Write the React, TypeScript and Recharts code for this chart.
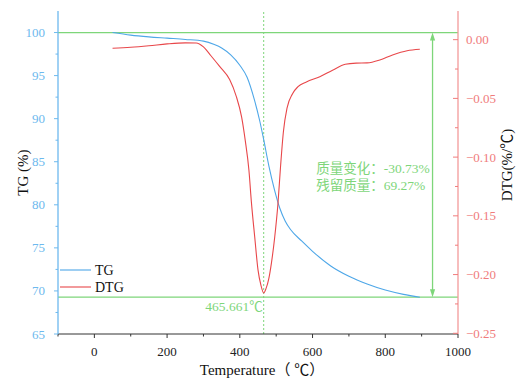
import React from 'react';
import { ComposedChart, Line, XAxis, YAxis, ReferenceLine, ReferenceDot } from 'recharts';

const tgTemp = [50, 100, 150, 200, 250, 300, 330, 350, 375, 400, 420, 440, 455, 465, 480, 495, 510, 525, 540, 570, 600, 650, 700, 750, 800, 850, 895];
const tgValue = [100, 99.7, 99.5, 99.35, 99.2, 99.0, 98.6, 98.2, 97.4, 96.2, 94.8, 92.2, 89.7, 87.7, 84.5, 81.8, 79.6, 78.1, 77.1, 75.8, 74.6, 72.9, 71.7, 70.8, 70.1, 69.6, 69.27];

const dtgTemp = [50, 100, 150, 200, 250, 280, 300, 320, 345, 372, 390, 405, 415, 425, 432, 441, 450, 458, 465.661, 472, 480, 487, 496, 505, 512, 520, 530, 545, 560, 583, 620, 655, 690, 720, 750, 785, 820, 860, 895];
const dtgValue = [-0.0073, -0.0065, -0.0052, -0.0036, -0.0027, -0.0028, -0.0062, -0.0135, -0.023, -0.034, -0.048, -0.066, -0.086, -0.111, -0.139, -0.168, -0.196, -0.209, -0.2157, -0.212, -0.203, -0.19, -0.168, -0.139, -0.108, -0.078, -0.058, -0.046, -0.04, -0.036, -0.0315, -0.026, -0.021, -0.02, -0.0198, -0.0173, -0.013, -0.0094, -0.0082];

const xTicks = [-100, 0, 100, 200, 300, 400, 500, 600, 700, 800, 900, 1000];
const xMajorStep = 200;
const tgTicks = [65, 67.5, 70, 72.5, 75, 77.5, 80, 82.5, 85, 87.5, 90, 92.5, 95, 97.5, 100];
const tgMajorStep = 5;
const dtgTicks = [-0.25, -0.225, -0.2, -0.175, -0.15, -0.125, -0.1, -0.075, -0.05, -0.025, 0];
const dtgMajorStep = 0.05;

const peakTemp = 465.661;
const startMass = 100;
const residualMass = 69.27;
const massChange = -30.73;
const arrowTemp = 930;
const noteTemp = 610;

const tgData = tgTemp.map((t, i) => ({ t, v: tgValue[i] }));
const dtgData = dtgTemp.map((t, i) => ({ t, v: dtgValue[i] }));

const BLUE_AXIS = '#6db9ee';
const BLUE_LINE = '#4ea7e8';
const RED_AXIS = '#f39a9a';
const RED_TEXT = '#f07c7c';
const RED_LINE = '#e8474a';
const GREEN = '#7ed67a';
const SERIF = 'Liberation Serif, serif';
const MIXED = 'Liberation Serif, Noto Sans CJK SC, serif';

const isMajor = (v: number, step: number) => Math.abs(v / step - Math.round(v / step)) < 1e-6;

const LeftTick = (p: any) => {
  const { x, y, payload } = p;
  const major = isMajor(payload.value, tgMajorStep);
  return (
    <g>
      <line x1={x} x2={x - (major ? 4 : 2.5)} y1={y} y2={y} stroke={BLUE_AXIS} strokeWidth={1} />
      {major && (
        <text x={x - 13} y={y + 4.5} textAnchor="end" fontSize={13} style={{ fontFamily: SERIF }} fill={BLUE_AXIS}>
          {payload.value}
        </text>
      )}
    </g>
  );
};

const RightTick = (p: any) => {
  const { x, y, payload } = p;
  const v = payload.value;
  const major = isMajor(v, dtgMajorStep);
  const label = Math.abs(v) < 1e-9 ? '0.00' : '\u2212' + Math.abs(v).toFixed(2);
  return (
    <g>
      <line x1={x} x2={x - (major ? 5 : 3)} y1={y} y2={y} stroke={RED_TEXT} strokeWidth={1} />
      {major && (
        <text x={x + 8} y={y + 4.5} textAnchor="start" fontSize={13} style={{ fontFamily: SERIF }} fill={RED_TEXT}>
          {label}
        </text>
      )}
    </g>
  );
};

const BottomTick = (p: any) => {
  const { x, y, payload } = p;
  const major = isMajor(payload.value, xMajorStep);
  return (
    <g>
      <line x1={x} x2={x} y1={y} y2={y + (major ? 4 : 2.5)} stroke="#333" strokeWidth={1} />
      {major && (
        <text x={x} y={y + 22} textAnchor="middle" fontSize={13} style={{ fontFamily: SERIF }} fill="#222">
          {payload.value}
        </text>
      )}
    </g>
  );
};

const ArrowShape = (p: any) => {
  const { x1, y1, x2, y2 } = p;
  const top = Math.min(y1, y2);
  const bot = Math.max(y1, y2);
  const x = x1;
  return (
    <g>
      <line x1={x} x2={x2} y1={top + 6} y2={bot - 6} stroke={GREEN} strokeWidth={1.3} />
      <polygon points={`${x},${top} ${x - 2.6},${top + 8} ${x + 2.6},${top + 8}`} fill={GREEN} />
      <polygon points={`${x},${bot} ${x - 2.6},${bot - 8} ${x + 2.6},${bot - 8}`} fill={GREEN} />
    </g>
  );
};

const NoteShape = (text: string, anchor: 'start' | 'end', dx: number) => (p: any) => (
  <text x={p.cx + dx} y={p.cy + 4.5} textAnchor={anchor} fontSize={13.5} style={{ fontFamily: MIXED }} fill={GREEN}>
    {text}
  </text>
);

export default function App() {
  return (
    <div style={{ position: 'absolute', left: 0, top: 0, width: 516, height: 383, background: '#fff' }}>
      <ComposedChart width={516} height={383} margin={{ top: 11, right: 0, bottom: 0, left: 0 }}>
        <XAxis
          xAxisId="top"
          orientation="top"
          type="number"
          dataKey="t"
          domain={[-100, 1000]}
          height={0}
          tick={false}
          tickLine={false}
          axisLine={{ stroke: '#222', strokeWidth: 1 }}
        />
        <XAxis
          type="number"
          dataKey="t"
          domain={[-100, 1000]}
          ticks={xTicks}
          interval={0}
          height={49}
          tickLine={false}
          tickSize={0}
          tickMargin={0}
          tick={<BottomTick />}
          axisLine={{ stroke: '#333', strokeWidth: 1 }}
          allowDataOverflow
        />
        <YAxis
          yAxisId="tg"
          orientation="left"
          type="number"
          domain={[65, 102.5]}
          ticks={tgTicks}
          interval={0}
          width={58}
          tickLine={false}
          tickSize={0}
          tickMargin={0}
          tick={<LeftTick />}
          axisLine={{ stroke: BLUE_AXIS, strokeWidth: 1.3 }}
          allowDataOverflow
        />
        <YAxis
          yAxisId="dtg"
          orientation="right"
          type="number"
          domain={[-0.2506, 0.0244]}
          ticks={dtgTicks}
          interval={0}
          width={58}
          tickLine={false}
          tickSize={0}
          tickMargin={0}
          tick={<RightTick />}
          axisLine={{ stroke: RED_AXIS, strokeWidth: 1.3 }}
          allowDataOverflow
        />
        <ReferenceLine yAxisId="tg" y={startMass} stroke={GREEN} strokeWidth={1.2} />
        <ReferenceLine yAxisId="tg" y={residualMass} stroke={GREEN} strokeWidth={1.2} />
        <ReferenceLine yAxisId="tg" x={peakTemp} stroke={GREEN} strokeWidth={1} strokeDasharray="2 2" />
        <ReferenceLine
          yAxisId="tg"
          segment={[{ x: arrowTemp, y: startMass }, { x: arrowTemp, y: residualMass }]}
          shape={<ArrowShape />}
        />
        <Line
          yAxisId="tg"
          data={tgData}
          dataKey="v"
          type="monotone"
          stroke={BLUE_LINE}
          strokeWidth={1.1}
          dot={false}
          isAnimationActive={false}
        />
        <Line
          yAxisId="dtg"
          data={dtgData}
          dataKey="v"
          type="monotone"
          stroke={RED_LINE}
          strokeWidth={1.1}
          dot={false}
          isAnimationActive={false}
        />
        <ReferenceDot yAxisId="tg" x={noteTemp} y={84.23} r={0} shape={NoteShape(`质量变化：${massChange.toFixed(2)}%`, 'start', 0)} />
        <ReferenceDot yAxisId="tg" x={noteTemp} y={82.29} r={0} shape={NoteShape(`残留质量：${residualMass.toFixed(2)}%`, 'start', 0)} />
        <ReferenceDot yAxisId="tg" x={peakTemp} y={68.14} r={0} shape={NoteShape(`${peakTemp}℃`, 'end', -1)} />
        <g>
          <line x1={60} x2={91} y1={270} y2={270} stroke={BLUE_LINE} strokeWidth={1.1} />
          <text x={95} y={275} fontSize={14} style={{ fontFamily: SERIF }} fill="#111">TG</text>
          <line x1={60} x2={91} y1={287} y2={287} stroke={RED_LINE} strokeWidth={1.1} />
          <text x={95} y={292} fontSize={14} style={{ fontFamily: SERIF }} fill="#111">DTG</text>
          <text x={262} y={375} textAnchor="middle" fontSize={15} style={{ fontFamily: MIXED }} fill="#111">Temperature（ ℃）</text>
          <text x={28} y={172.5} textAnchor="middle" fontSize={15} style={{ fontFamily: SERIF }} fill="#111" transform="rotate(-90 28 172.5)">TG (%)</text>
          <text x={512} y={165} textAnchor="middle" fontSize={15} style={{ fontFamily: MIXED }} fill="#111" transform="rotate(-90 512 165)">DTG(%/℃)</text>
        </g>
      </ComposedChart>
    </div>
  );
}
